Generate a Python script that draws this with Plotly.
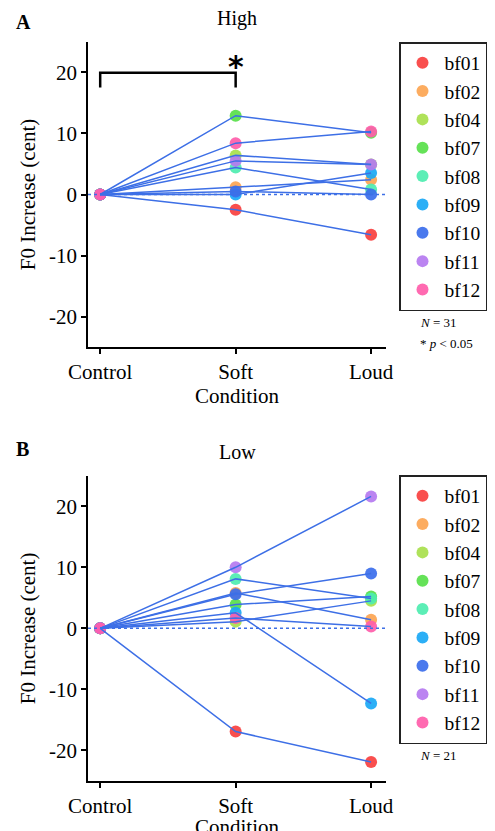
import plotly.graph_objects as go

conditions = ["Control", "Soft", "Loud"]
subjects = ["bf01", "bf02", "bf04", "bf07", "bf08", "bf09", "bf10", "bf11", "bf12"]
colors = ["#F8403F", "#FCA552", "#A8E04C", "#58E04A", "#4EEDB0",
          "#1AA8F5", "#3B6EEC", "#B57AF0", "#FF5DAA"]

high_values = {
    "bf01": [0, -2.5, -6.6],
    "bf02": [0, 1.2, 2.4],
    "bf04": [0, 6.4, 4.9],
    "bf07": [0, 12.9, 10.1],
    "bf08": [0, 4.4, 0.8],
    "bf09": [0, 0.0, 3.5],
    "bf10": [0, 0.5, 0.0],
    "bf11": [0, 5.5, 4.9],
    "bf12": [0, 8.4, 10.3],
}
low_values = {
    "bf01": [0, -16.9, -21.9],
    "bf02": [0, 5.8, 1.4],
    "bf04": [0, 1.1, 4.5],
    "bf07": [0, 3.9, 5.2],
    "bf08": [0, 8.1, 4.9],
    "bf09": [0, 2.55, -12.3],
    "bf10": [0, 5.6, 9.0],
    "bf11": [0, 10.0, 21.6],
    "bf12": [0, 1.7, 0.3],
}
y_ticks = [-20, -10, 0, 10, 20]
y_ticklabels = ["-20", "-10", "0", "10", "20"]

LINE_COLOR = "#3D6FE6"
SERIF = "Liberation Serif"
W, H = 495, 831
OFF = 8  # page body margin compensation


def px(v):
    return (v - OFF) / W


def py(v):
    return 1 - (v - OFF) / H


xpos = list(range(len(conditions)))
fig = go.Figure()

panels = [
    (high_values, "x", "y", "legend"),
    (low_values, "x2", "y2", "legend2"),
]
for vals, xa, ya, lg in panels:
    # markers first
    for s, c in zip(subjects, colors):
        fig.add_trace(go.Scatter(
            x=xpos, y=vals[s], mode="markers", name=s,
            marker=dict(color=c, size=12, opacity=0.92),
            xaxis=xa, yaxis=ya, legend=lg, showlegend=True,
        ))
    # lines over markers
    for s in subjects:
        fig.add_trace(go.Scatter(
            x=xpos, y=vals[s], mode="lines",
            line=dict(color=LINE_COLOR, width=1.5),
            xaxis=xa, yaxis=ya, showlegend=False, hoverinfo="skip",
        ))

xdom = [px(88), px(386)]
ydomA = [py(347.3), py(41.7)]
ydomB = [py(781), py(475.7)]

axis_common = dict(showgrid=False, zeroline=False, showline=True,
                   linecolor="black", linewidth=1.5, ticks="outside",
                   ticklen=5, tickwidth=1.5, tickcolor="black", automargin=False,
                   tickfont=dict(family=SERIF, size=21, color="black"))

xcommon = dict(axis_common, range=[-0.09, 2.11], tickvals=xpos,
               ticktext=conditions,
               title=dict(text="Condition", standoff=2,
                          font=dict(family=SERIF, size=21, color="black")))
ycommon = dict(axis_common, range=[-25, 25], tickvals=y_ticks,
               ticktext=y_ticklabels,
               title=dict(text="F0 Increase (cent)", standoff=8,
                          font=dict(family=SERIF, size=21, color="black")))

legend_common = dict(font=dict(family=SERIF, size=19.5, color="black"),
                     bordercolor="#222", borderwidth=1.5, bgcolor="white",
                     xanchor="left", yanchor="top", itemsizing="trace",
                     itemwidth=34)

fig.update_layout(
    width=W, height=H, margin=dict(l=0, r=0, t=0, b=0, autoexpand=False),
    plot_bgcolor="white", paper_bgcolor="white",
    xaxis=dict(xcommon, domain=xdom, anchor="y"),
    yaxis=dict(ycommon, domain=ydomA, anchor="x"),
    xaxis2=dict(xcommon, domain=xdom, anchor="y2"),
    yaxis2=dict(ycommon, domain=ydomB, anchor="x2"),
    legend=dict(legend_common, x=px(399), y=py(42)),
    legend2=dict(legend_common, x=px(399), y=py(475)),
)

# zero reference lines
for xr, yr in [("x domain", "y"), ("x2 domain", "y2")]:
    fig.add_shape(type="line", xref=xr, yref=yr, x0=0, x1=1, y0=0, y1=0,
                  line=dict(color=LINE_COLOR, width=1.5, dash="dot"),
                  layer="above")

# significance bracket (Control vs Soft, High)
fig.add_shape(type="path", xref="x", yref="y",
              path=f"M {xpos[0]},17.5 L {xpos[0]},19.9 L {xpos[1]},19.9 L {xpos[1]},17.5",
              line=dict(color="black", width=2.5))
fig.add_annotation(x=xpos[1], y=21.0, xref="x", yref="y", text="<b>*</b>",
                   showarrow=False, yanchor="middle",
                   font=dict(family="DejaVu Sans", size=30, color="black"))

# panel titles and letters
fig.add_annotation(x=px(237), y=py(18), xref="paper", yref="paper",
                   text="High", showarrow=False, yanchor="middle",
                   font=dict(family=SERIF, size=20, color="black"))
fig.add_annotation(x=px(237), y=py(452), xref="paper", yref="paper",
                   text="Low", showarrow=False, yanchor="middle",
                   font=dict(family=SERIF, size=20, color="black"))
fig.add_annotation(x=px(14), y=py(22), xref="paper", yref="paper",
                   text="<b>A</b>", showarrow=False, xanchor="left", yanchor="middle",
                   font=dict(family=SERIF, size=20, color="black"))
fig.add_annotation(x=px(14), y=py(449), xref="paper", yref="paper",
                   text="<b>B</b>", showarrow=False, xanchor="left", yanchor="middle",
                   font=dict(family=SERIF, size=20, color="black"))

# notes
fig.add_annotation(x=px(418), y=py(322), xref="paper", yref="paper",
                   text="<i>N</i> = 31", showarrow=False, xanchor="left", yanchor="middle",
                   font=dict(family=SERIF, size=13, color="black"))
fig.add_annotation(x=px(418), y=py(343), xref="paper", yref="paper",
                   text="* <i>p</i> &lt; 0.05", showarrow=False, xanchor="left", yanchor="middle",
                   font=dict(family=SERIF, size=13, color="black"))
fig.add_annotation(x=px(418), y=py(755), xref="paper", yref="paper",
                   text="<i>N</i> = 21", showarrow=False, xanchor="left", yanchor="middle",
                   font=dict(family=SERIF, size=13, color="black"))

fig.write_html("out.html")
